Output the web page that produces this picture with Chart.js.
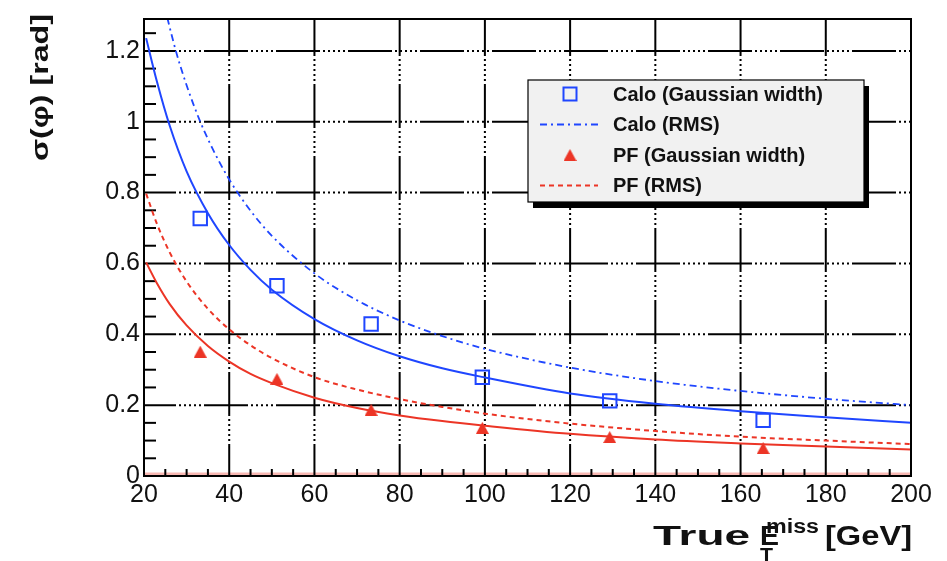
<!DOCTYPE html>
<html>
<head>
<meta charset="utf-8">
<title>Missing ET phi resolution</title>
<script src="https://cdn.jsdelivr.net/npm/chart.js@4.4.1/dist/chart.umd.min.js"></script>
<style>
  html, body { margin: 0; padding: 0; background: #ffffff; }
  canvas { display: block; }
</style>
</head>
<body>
<canvas id="chart" width="947" height="561"></canvas>
<script>
// Measured phi resolution vs. true missing transverse energy [GeV]
const trueMet        = [33.2, 51.2, 73.3, 99.4, 129.3, 165.3];
const caloGausWidth  = [0.727, 0.537, 0.429, 0.279, 0.212, 0.157];
const pfGausWidth    = [0.351, 0.274, 0.187, 0.136, 0.110, 0.079];

// Fitted resolution curves (Gaussian width) and RMS curves
const curveMet = [20.5, 23, 26, 30, 35, 40, 45, 50, 60, 70, 80, 90, 100, 120, 140, 160, 180, 200];
const caloFit  = [1.236, 1.115, 0.990, 0.860, 0.742, 0.652, 0.582, 0.526, 0.443, 0.383, 0.338, 0.304, 0.278, 0.233, 0.204, 0.183, 0.166, 0.150];
const pfFit    = [0.603, 0.545, 0.486, 0.425, 0.367, 0.323, 0.288, 0.262, 0.221, 0.192, 0.171, 0.155, 0.142, 0.119, 0.103, 0.092, 0.083, 0.075];
const pfRms    = [0.797, 0.713, 0.632, 0.549, 0.472, 0.414, 0.369, 0.333, 0.279, 0.244, 0.217, 0.195, 0.176, 0.148, 0.127, 0.111, 0.100, 0.090];
const caloRmsMet = [24.5, 27.5, 30, 33, 36, 40, 45, 50, 60, 70, 80, 90, 100, 120, 140, 160, 180, 200];
const caloRms    = [1.340, 1.199, 1.103, 1.006, 0.926, 0.837, 0.749, 0.678, 0.572, 0.496, 0.439, 0.395, 0.359, 0.306, 0.268, 0.240, 0.218, 0.200];

// Axis ticks and legend text
const xTickValues = [20, 40, 60, 80, 100, 120, 140, 160, 180, 200];
const yTickValues = [0, 0.2, 0.4, 0.6, 0.8, 1.0, 1.2];
const legendLabels = ['Calo (Gaussian width)', 'Calo (RMS)', 'PF (Gaussian width)', 'PF (RMS)'];

const BLUE = '#1f46ff';
const RED = '#ec3526';
const FONT = '"Liberation Sans", Arial, Helvetica, sans-serif';
const GRID_DASH = [44, 3, 2, 3, 2, 3, 2, 3, 2, 3, 2, 3];

function pairs(xs, ys) { return xs.map((v, i) => ({ x: v, y: ys[i] })); }

// filled upward triangle used as the PF marker
function triangleMarker(color, w, h) {
  const c = document.createElement('canvas');
  c.width = w; c.height = h;
  const g = c.getContext('2d');
  g.fillStyle = color;
  g.beginPath();
  g.moveTo(w / 2, 0);
  g.lineTo(w, h);
  g.lineTo(0, h);
  g.closePath();
  g.fill();
  return c;
}
const pfMarker = triangleMarker(RED, 13, 12);

const curveStyle = { showLine: true, pointRadius: 0, borderWidth: 2, fill: false,
                     tension: 0.4, cubicInterpolationMode: 'monotone' };

const datasets = [
  Object.assign({ label: 'Calo fit', data: pairs(curveMet, caloFit), borderColor: BLUE }, curveStyle),
  Object.assign({ label: legendLabels[1], data: pairs(caloRmsMet, caloRms), borderColor: BLUE,
                  borderDash: [7, 4, 2, 4] }, curveStyle, { borderWidth: 1.8 }),
  Object.assign({ label: 'PF fit', data: pairs(curveMet, pfFit), borderColor: RED }, curveStyle),
  Object.assign({ label: legendLabels[3], data: pairs(curveMet, pfRms), borderColor: RED,
                  borderDash: [5, 4] }, curveStyle),
  { label: legendLabels[0], data: pairs(trueMet, caloGausWidth), showLine: false,
    pointStyle: 'rect', pointRadius: 9.5, pointBorderWidth: 2, pointBorderColor: BLUE,
    pointBackgroundColor: 'rgba(0,0,0,0)', borderColor: BLUE },
  { label: legendLabels[2], data: pairs(trueMet, pfGausWidth), showLine: false,
    pointStyle: pfMarker, pointRadius: 7, borderColor: RED, backgroundColor: RED }
];

function fmt(v) { return String(Math.round(v * 10) / 10); }

// Draw text scaled horizontally so that it spans a given width
function fitText(ctx, text, x, y, width, font) {
  ctx.font = font;
  const w = ctx.measureText(text).width;
  ctx.save();
  ctx.translate(x, y);
  ctx.scale(width / w, 1);
  ctx.fillText(text, 0, 0);
  ctx.restore();
}

const rootFrame = {
  id: 'rootFrame',
  beforeDatasetsDraw(chart) {
    const { ctx, chartArea: a, scales: { x, y } } = chart;
    ctx.save();
    // faint red trace along the zero line
    ctx.strokeStyle = 'rgba(236,53,38,0.35)';
    ctx.lineWidth = 3;
    ctx.beginPath();
    ctx.moveTo(a.left, y.getPixelForValue(0) - 2);
    ctx.lineTo(a.right, y.getPixelForValue(0) - 2);
    ctx.stroke();

    // grid: long dash followed by dots
    ctx.strokeStyle = '#000';
    ctx.lineWidth = 2;
    ctx.setLineDash(GRID_DASH);
    ctx.lineDashOffset = 12;
    yTickValues.forEach(v => {
      if (v <= y.min || v >= y.max) return;
      const py = y.getPixelForValue(v);
      ctx.beginPath(); ctx.moveTo(a.left, py); ctx.lineTo(a.right, py); ctx.stroke();
    });
    ctx.lineDashOffset = 7;
    xTickValues.forEach(v => {
      if (v <= x.min || v >= x.max) return;
      const px = x.getPixelForValue(v);
      ctx.beginPath(); ctx.moveTo(px, a.top); ctx.lineTo(px, a.bottom); ctx.stroke();
    });
    ctx.setLineDash([]);

    // minor ticks inside the frame
    ctx.lineWidth = 2;
    for (let k = 1; k * 0.05 < y.max; k++) {
      if (k % 4 === 0) continue;
      const py = y.getPixelForValue(k * 0.05);
      ctx.beginPath(); ctx.moveTo(a.left, py); ctx.lineTo(a.left + 12, py); ctx.stroke();
    }
    for (let v = 25; v < x.max; v += 5) {
      if (v % 20 === 0) continue;
      const px = x.getPixelForValue(v);
      ctx.beginPath(); ctx.moveTo(px, a.bottom); ctx.lineTo(px, a.bottom - 7); ctx.stroke();
    }
    ctx.restore();
  },
  afterDatasetsDraw(chart) {
    const { ctx, chartArea: a } = chart;
    ctx.save();
    ctx.strokeStyle = '#000';
    ctx.lineWidth = 2;
    ctx.strokeRect(a.left, a.top, a.right - a.left, a.bottom - a.top);
    ctx.restore();
  },
  afterDraw(chart) {
    const { ctx, chartArea: a } = chart;
    ctx.save();

    // legend box with drop shadow
    const lx = a.left + 384, ly = a.top + 61, lw = 336, lh = 122;
    ctx.fillStyle = '#000';
    ctx.fillRect(lx + 5, ly + 6, lw, lh);
    ctx.fillStyle = '#f1f1f1';
    ctx.fillRect(lx, ly, lw, lh);
    ctx.strokeStyle = '#000';
    ctx.lineWidth = 1.2;
    ctx.strokeRect(lx, ly, lw, lh);

    const ds = chart.data.datasets;
    const entries = [ds[4], ds[1], ds[5], ds[3]];
    entries.forEach((d, i) => {
      const ry = ly + 14 + i * 30.5;
      const sx = lx + 42;
      if (d.showLine) {
        ctx.strokeStyle = d.borderColor;
        ctx.lineWidth = 2;
        ctx.setLineDash(d.borderDash || []);
        ctx.lineDashOffset = 0;
        ctx.beginPath(); ctx.moveTo(lx + 12, ry); ctx.lineTo(lx + 70, ry); ctx.stroke();
        ctx.setLineDash([]);
      } else if (d.pointStyle === 'rect') {
        ctx.strokeStyle = d.pointBorderColor;
        ctx.lineWidth = 2;
        ctx.strokeRect(sx - 6.5, ry - 6.5, 13, 13);
      } else {
        ctx.drawImage(d.pointStyle, sx - d.pointStyle.width / 2, ry - d.pointStyle.height / 2);
      }
      ctx.fillStyle = '#111';
      ctx.font = 'bold 20px ' + FONT;
      ctx.textBaseline = 'middle';
      ctx.textAlign = 'left';
      ctx.fillText(d.label, lx + 85, ry + 1);
    });

    // axis titles
    ctx.fillStyle = '#111';
    ctx.textBaseline = 'alphabetic';
    ctx.textAlign = 'left';
    const by = a.bottom + 69;
    fitText(ctx, 'True', a.left + 509, by, 97, 'bold 28px ' + FONT);
    fitText(ctx, 'E', a.left + 616, by, 19, 'bold 28px ' + FONT);
    fitText(ctx, 'miss', a.left + 622, by - 12, 53, 'bold 20px ' + FONT);
    fitText(ctx, 'T', a.left + 616, by + 17, 13, 'bold 20px ' + FONT);
    fitText(ctx, '[GeV]', a.left + 681, by, 87, 'bold 28px ' + FONT);

    ctx.save();
    ctx.translate(a.left - 96, a.top - 5);
    ctx.rotate(-Math.PI / 2);
    ctx.textAlign = 'left';
    ctx.font = 'bold 23px ' + FONT;
    const yt = 'σ(φ) [rad]';
    const tw = ctx.measureText(yt).width;
    ctx.scale(147 / tw, 1);
    ctx.fillText(yt, -tw, 0);
    ctx.restore();

    ctx.restore();
  }
};

new Chart(document.getElementById('chart'), {
  type: 'line',
  data: { datasets },
  options: {
    responsive: false,
    animation: false,
    events: [],
    layout: { padding: { top: 10, right: 36, left: 0, bottom: 0 } },
    scales: {
      x: {
        type: 'linear', min: 20, max: 200,
        afterBuildTicks: s => { s.ticks = xTickValues.map(v => ({ value: v })); },
        afterFit: s => { s.height = 85; },
        grid: { display: false, drawTicks: false },
        border: { display: false },
        ticks: { color: '#111', font: { family: FONT, size: 25 }, padding: 4,
                 maxRotation: 0, autoSkip: false, callback: v => fmt(v) }
      },
      y: {
        type: 'linear', min: 0, max: 1.29,
        afterBuildTicks: s => { s.ticks = yTickValues.map(v => ({ value: v })); },
        afterFit: s => { s.width = 144; },
        grid: { display: false, drawTicks: false },
        border: { display: false },
        ticks: { color: '#111', font: { family: FONT, size: 25 }, padding: 4,
                 autoSkip: false, callback: v => fmt(v) }
      }
    },
    plugins: { legend: { display: false }, tooltip: { enabled: false } }
  },
  plugins: [rootFrame]
});
</script>
</body>
</html>
